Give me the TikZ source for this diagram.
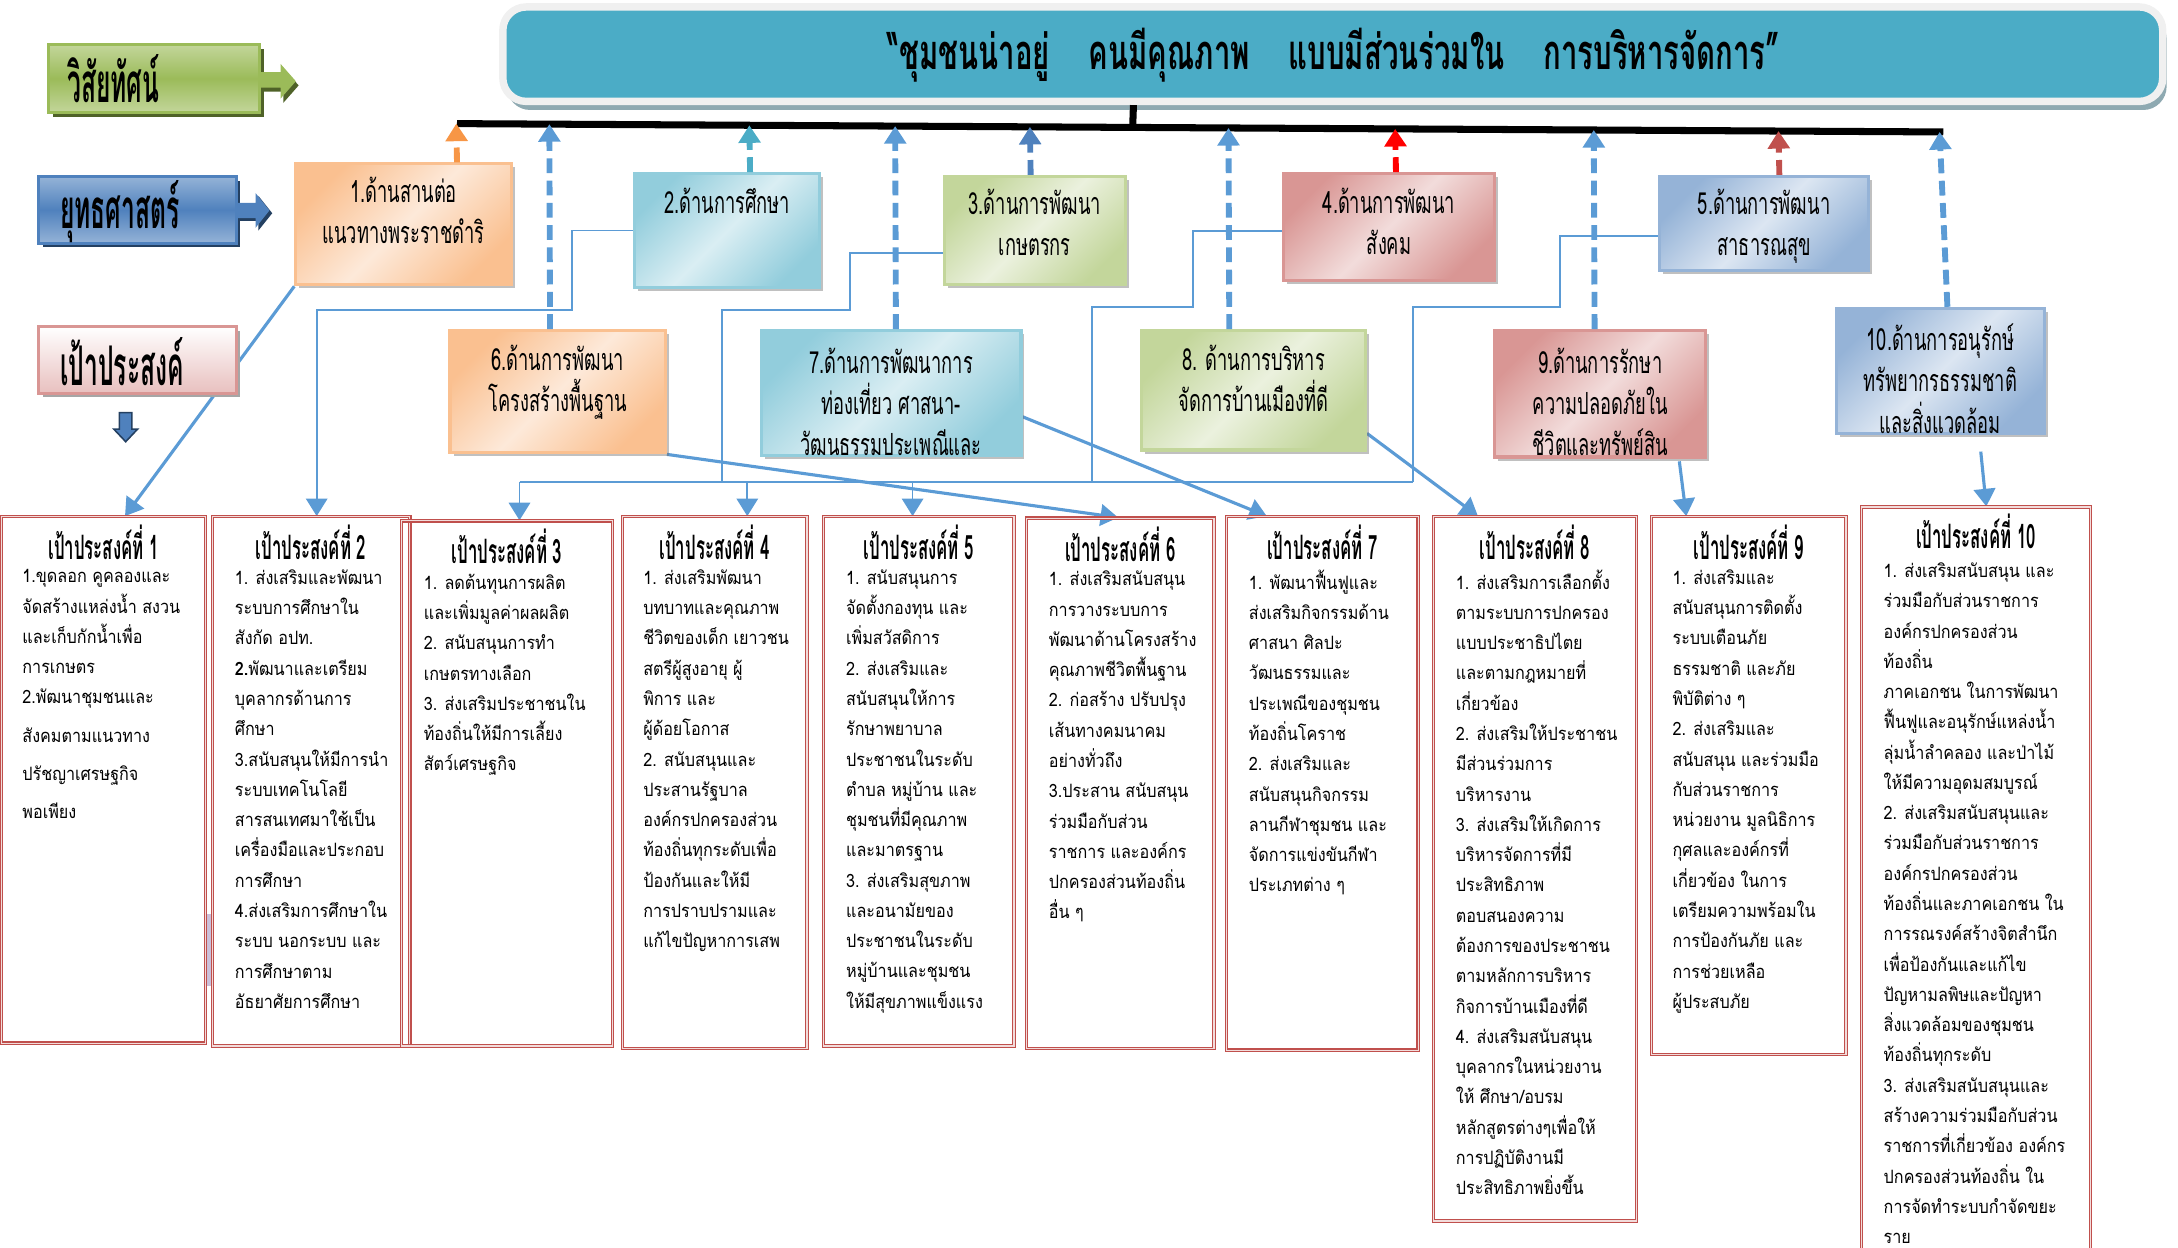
\documentclass[tikz,border=0pt]{standalone}
\usepackage{fontspec}
\newfontfamily\thaicond[Script=Thai,FakeStretch=0.6]{Loma}
\newfontfamily\thaihead[Script=Thai,FakeStretch=0.5]{Loma}
\newfontfamily\thainarrow[Script=Thai,FakeStretch=0.45]{Loma}
\newfontfamily\thaibody[Script=Thai,FakeStretch=0.88]{Loma}
\usetikzlibrary{arrows.meta,shadows,fit,calc}

\definecolor{orangeD}{HTML}{FAC090}
\definecolor{orangeL}{HTML}{FDE9D9}
\definecolor{orangeA}{HTML}{F79646}
\definecolor{tealD}{HTML}{92CDDC}
\definecolor{tealL}{HTML}{DAEEF3}
\definecolor{tealA}{HTML}{4BACC6}
\definecolor{greenD}{HTML}{C3D69B}
\definecolor{greenL}{HTML}{EBF1DE}
\definecolor{pinkD}{HTML}{D99694}
\definecolor{pinkL}{HTML}{F2DCDB}
\definecolor{blueD}{HTML}{95B3D7}
\definecolor{blueL}{HTML}{DCE6F2}
\definecolor{blueA}{HTML}{4F81BD}
\definecolor{darkredA}{HTML}{C0504D}
\definecolor{linkblue}{HTML}{5B9BD5}
\definecolor{objred}{HTML}{C0504D}
\definecolor{bannerteal}{HTML}{4BACC6}
\definecolor{bannerrim}{HTML}{F0F0F0}
\definecolor{bannerdrop}{HTML}{8EA9B1}
\definecolor{visL}{HTML}{C3D69B}
\definecolor{visD}{HTML}{9BBB59}
\definecolor{visS}{HTML}{4F6228}
\definecolor{stratS}{HTML}{244061}
\definecolor{lavender}{HTML}{CCC0DA}

\pgfdeclarelayer{back}
\pgfsetlayers{back,main}

\begin{document}
\begin{tikzpicture}[x=0.0125cm,y=-0.0125cm,
  >={Triangle[width=5.5pt,length=4.5pt]},
  stbox/.style={inner sep=0pt, line width=.8pt,
    drop shadow={shadow xshift=.9pt,shadow yshift=-.9pt,fill=black!55,opacity=.45}},
  orangebox/.style={stbox, draw=orangeD, left color=orangeD, right color=orangeD, middle color=orangeL, shading angle=45},
  tealbox/.style={stbox, draw=tealD, left color=tealD, right color=tealD, middle color=tealL, shading angle=45},
  greenbox/.style={stbox, draw=greenD, left color=greenD, right color=greenD, middle color=greenL, shading angle=45},
  pinkbox/.style={stbox, draw=pinkD, left color=pinkD, right color=pinkD, middle color=pinkL, shading angle=45},
  bluebox/.style={stbox, draw=blueD, left color=blueD, right color=blueD, middle color=blueL, shading angle=45},
  sttext/.style={font=\thaicond\fontsize{7.8pt}{10.5pt}\selectfont, align=center, inner sep=0pt, anchor=north},
  lbltext/.style={font=\thainarrow\bfseries\fontsize{14pt}{16pt}\selectfont, inner sep=0pt, anchor=west},
  objbox/.style={inner sep=0pt, draw=objred, line width=.3pt, double=pinkL, double distance=.3pt},
  objhead/.style={font=\thaihead\bfseries\fontsize{8.6pt}{10pt}\selectfont, inner sep=0pt, anchor=north},
  objtext/.style={font=\thaibody\fontsize{4.7pt}{7.75pt}\selectfont, align=left, inner sep=0pt, anchor=north west},
  link/.style={draw=linkblue, line width=.45pt},
  diag/.style={draw=linkblue, line width=.8pt, ->},
  uparrow/.style={line width=1.5pt, dash pattern=on 3.8pt off 1.9pt, ->},
]
\useasboundingbox (0,0) rectangle (1568,898);
\clip (0,0) rectangle (1568,898);

% vision banner
\node[inner sep=0pt, draw=bannerrim, line width=1.9pt, fill=bannerteal, rounded corners=6pt,
  drop shadow={shadow xshift=1pt,shadow yshift=-2.2pt,fill=bannerdrop,opacity=1},
  fit={(362,5) (1557,73)}] (vis) {};
\node[font=\thaicond\bfseries\fontsize{12.5pt}{15pt}\selectfont] (vistxt) at (960,40)
  {“ชุมชนน่าอยู่\hspace{.8em}คนมีคุณภาพ\hspace{.8em}แบบมีส่วนร่วมใน\hspace{.8em}การบริหารจัดการ”};
\coordinate (barL) at (329,89);
\coordinate (barR) at (1399,95);
\coordinate (stub) at (816,0);
\draw[line width=1.8pt] (barL) -- (barR);
\draw[line width=1.8pt] (vis.south -| stub) -- ($(barL)!(stub)!(barR)$);

% left labels
\fill[visS] (38,35) rectangle (190,84);
\node[inner sep=0pt, draw=visD, line width=.8pt, top color=visL, bottom color=visL, middle color=visD,
  fit={(35,32) (187,81)}] (vlab) {};
\node[lbltext] at ($(vlab.west)+(14,0)$) {วิสัยทัศน์};
\fill[visS] (189,55) -- (204,55) -- (204,49) -- (215,61.5) -- (204,74) -- (204,66) -- (189,66) -- cycle;
\fill[visD] (187,52) -- (202,52) -- (202,46) -- (213,58.5) -- (202,71) -- (202,63) -- (187,63) -- cycle;

\fill[stratS] (31,130) rectangle (173,178);
\node[inner sep=0pt, draw=blueA, line width=.8pt, top color=blueD, bottom color=blueD, middle color=blueA,
  fit={(28,127) (170,175)}] (slab) {};
\node[lbltext] at ($(slab.west)+(16,1)$) {ยุทธศาสตร์};
\fill[stratS] (172,148) -- (186,148) -- (186,141) -- (196,153.5) -- (186,166) -- (186,159) -- (172,159) -- cycle;
\fill[blueA] (170,146) -- (184,146) -- (184,139) -- (194,151.5) -- (184,164) -- (184,157) -- (170,157) -- cycle;

\fill[black!35] (31,238) rectangle (173,286);
\node[inner sep=0pt, draw=pinkD, line width=.8pt, top color=white, bottom color=pinkD!60,
  fit={(28,235) (170,283)}] (olab) {};
\node[lbltext] at ($(olab.west)+(16,1)$) {เป้าประสงค์};
\filldraw[fill=blueA, draw=stratS, line width=.4pt] (86,297) -- (95,297) -- (95,309) -- (99,309) -- (90.5,318) -- (82,309) -- (86,309) -- cycle;

% strategy boxes
\node[orangebox, fit={(213,118) (368,205)}] (s1) {};
\node[sttext] (s1t) at ($(s1.north)+(0,10)$) {1.ด้านสานต่อ\\แนวทางพระราชดำริ};
\node[tealbox, fit={(457,125) (590,207)}] (s2) {};
\node[sttext] (s2t) at ($(s2.north)+(0,11)$) {2.ด้านการศึกษา};
\node[greenbox, fit={(680,127) (810,205)}] (s3) {};
\node[sttext] (s3t) at ($(s3.north)+(0,10)$) {3.ด้านการพัฒนา\\เกษตรกร};
\node[pinkbox, fit={(924,125) (1076,202)}] (s4) {};
\node[sttext] (s4t) at ($(s4.north)+(0,11)$) {4.ด้านการพัฒนา\\สังคม};
\node[bluebox, fit={(1195,127) (1345,195)}] (s5) {};
\node[sttext] (s5t) at ($(s5.north)+(0,10)$) {5.ด้านการพัฒนา\\สาธารณสุข};
\node[orangebox, fit={(324,238) (479,326)}] (s6) {};
\node[sttext] (s6t) at ($(s6.north)+(0,11)$) {6.ด้านการพัฒนา\\โครงสร้างพื้นฐาน};
\node[tealbox, fit={(548,238) (735,328)}] (s7) {};
\begin{scope}
  \clip (s7.south west) rectangle (s7.north east);
  \node[sttext] (s7t) at ($(s7.north)+(0,13)$) {7.ด้านการพัฒนาการ\\ท่องเที่ยว ศาสนา-\\วัฒนธรรมประเพณีและ};
\end{scope}
\node[greenbox, fit={(822,238) (983,324)}] (s8) {};
\node[sttext] (s8t) at ($(s8.north)+(0,11)$) {8. ด้านการบริหาร\\จัดการบ้านเมืองที่ดี};
\node[pinkbox, fit={(1076,238) (1228,329)}] (s9) {};
\begin{scope}
  \clip (s9.south west) rectangle (s9.north east);
  \node[sttext] (s9t) at ($(s9.north)+(0,13)$) {9.ด้านการรักษา\\ความปลอดภัยใน\\ชีวิตและทรัพย์สิน};
\end{scope}
\node[bluebox, fit={(1322,222) (1472,312)}] (s10) {};
\begin{scope}
  \clip (s10.south west) rectangle (s10.north east);
  \node[sttext] (s10t) at ($(s10.north)+(0,12)$) {10.ด้านการอนุรักษ์\\ทรัพยากรธรรมชาติ\\และสิ่งแวดล้อม};
\end{scope}

% dashed arrows up to the bar
\coordinate (a1) at (329,0);  \coordinate (a2) at (540,0);
\coordinate (a3) at (742,0);  \coordinate (a4) at (1005,0);
\coordinate (a5) at (1281,0); \coordinate (a6) at (396,0);
\coordinate (a7) at (645,0);  \coordinate (a8) at (885,0);
\coordinate (a9) at (1148,0); \coordinate (a10) at (1397,0);
\draw[uparrow, orangeA] (s1.north -| a1) -- ($(barL)!(a1)!(barR)$);
\draw[uparrow, tealA] (s2.north -| a2) -- ($(barL)!(a2)!(barR)$);
\draw[uparrow, blueA] (s3.north -| a3) -- ($(barL)!(a3)!(barR)$);
\draw[uparrow, red] (s4.north -| a4) -- ($(barL)!(a4)!(barR)$);
\draw[uparrow, darkredA] (s5.north -| a5) -- ($(barL)!(a5)!(barR)$);
\draw[uparrow, linkblue] (s6.north -| a6) -- ($(barL)!(a6)!(barR)$);
\draw[uparrow, linkblue] (s7.north -| a7) -- ($(barL)!(a7)!(barR)$);
\draw[uparrow, linkblue] (s8.north -| a8) -- ($(barL)!(a8)!(barR)$);
\draw[uparrow, linkblue] (s9.north -| a9) -- ($(barL)!(a9)!(barR)$);
\draw[uparrow, linkblue] ($(s10.north)+(5,0)$) -- ($(barL)!(a10)!(barR)$);

% objectives
\fill[lavender] (148,658) rectangle (154,710);
\node[objbox, fit={(1,372) (148,751)}] (o1) {};
\node[objhead] (h1) at ($(o1.north)+(0,6)$) {เป้าประสงค์ที่ 1};
\node[objtext] (t1) at ($(o1.north west)+(15,38)$) {1.ขุดลอก คูคลองและ\\จัดสร้างแหล่งน้ำ สงวน\\และเก็บกักน้ำเพื่อ\\การเกษตร\\2.พัฒนาชุมชนและ\\[2pt]สังคมตามแนวทาง\\[2pt]ปรัชญาเศรษฐกิจ\\[2pt]พอเพียง};

\node[objbox, fit={(153,372) (295,753)}] (o2) {};
\node[objhead] (h2) at ($(o2.north)+(0,6)$) {เป้าประสงค์ที่ 2};
\node[objtext] (t2) at ($(o2.north west)+(16,38)$) {1. ส่งเสริมและพัฒนา\\ระบบการศึกษาใน\\สังกัด อปท.\\{\bfseries 2.}พัฒนาและเตรียม\\บุคลากรด้านการ\\ศึกษา\\3.สนับสนุนให้มีการนำ\\ระบบเทคโนโลยี\\สารสนเทศมาใช้เป็น\\เครื่องมือและประกอบ\\การศึกษา\\4.ส่งเสริมการศึกษาใน\\ระบบ นอกระบบ และ\\การศึกษาตาม\\อัธยาศัยการศึกษา};

\node[objbox, fit={(289,375) (441,753)}] (o3) {};
\node[objhead] (h3) at ($(o3.north)+(0,6)$) {เป้าประสงค์ที่ 3};
\node[objtext] (t3) at ($(o3.north west)+(16,38)$) {1. ลดต้นทุนการผลิต\\และเพิ่มมูลค่าผลผลิต\\2. สนับสนุนการทำ\\เกษตรทางเลือก\\3. ส่งเสริมประชาชนใน\\ท้องถิ่นให้มีการเลี้ยง\\สัตว์เศรษฐกิจ};

\node[objbox, fit={(448,372) (581,755)}] (o4) {};
\node[objhead] (h4) at ($(o4.north)+(0,6)$) {เป้าประสงค์ที่ 4};
\node[objtext] (t4) at ($(o4.north west)+(15,38)$) {1. ส่งเสริมพัฒนา\\บทบาทและคุณภาพ\\ชีวิตของเด็ก เยาวชน\\สตรีผู้สูงอายุ ผู้\\พิการ และ\\ผู้ด้อยโอกาส\\2. สนับสนุนและ\\ประสานรัฐบาล\\องค์กรปกครองส่วน\\ท้องถิ่นทุกระดับเพื่อ\\ป้องกันและให้มี\\การปราบปรามและ\\แก้ไขปัญหาการเสพ};

\node[objbox, fit={(593,372) (730,753)}] (o5) {};
\node[objhead] (h5) at ($(o5.north)+(0,6)$) {เป้าประสงค์ที่ 5};
\node[objtext] (t5) at ($(o5.north west)+(16,38)$) {1. สนับสนุนการ\\จัดตั้งกองทุน และ\\เพิ่มสวัสดิการ\\2. ส่งเสริมและ\\สนับสนุนให้การ\\รักษาพยาบาล\\ประชาชนในระดับ\\ตำบล หมู่บ้าน และ\\ชุมชนที่มีคุณภาพ\\และมาตรฐาน\\3. ส่งเสริมสุขภาพ\\และอนามัยของ\\ประชาชนในระดับ\\หมู่บ้านและชุมชน\\ให้มีสุขภาพแข็งแรง};

\node[objbox, fit={(739,373) (874,755)}] (o6) {};
\node[objhead] (h6) at ($(o6.north)+(0,6)$) {เป้าประสงค์ที่ 6};
\node[objtext] (t6) at ($(o6.north west)+(16,38)$) {1. ส่งเสริมสนับสนุน\\การวางระบบการ\\พัฒนาด้านโครงสร้าง\\คุณภาพชีวิตพื้นฐาน\\2. ก่อสร้าง ปรับปรุง\\เส้นทางคมนาคม\\อย่างทั่วถึง\\3.ประสาน สนับสนุน\\ร่วมมือกับส่วน\\ราชการ และองค์กร\\ปกครองส่วนท้องถิ่น\\อื่น ๆ};

\node[objbox, fit={(883,372) (1021,756)}] (o7) {};
\node[objhead] (h7) at ($(o7.north)+(0,6)$) {เป้าประสงค์ที่ 7};
\node[objtext] (t7) at ($(o7.north west)+(16,38)$) {1. พัฒนาฟื้นฟูและ\\ส่งเสริมกิจกรรมด้าน\\ศาสนา ศิลปะ\\วัฒนธรรมและ\\ประเพณีของชุมชน\\ท้องถิ่นโคราช\\2. ส่งเสริมและ\\สนับสนุนกิจกรรม\\ลานกีฬาชุมชน และ\\จัดการแข่งขันกีฬา\\ประเภทต่าง ๆ};

\node[objbox, fit={(1032,372) (1178,879)}] (o8) {};
\node[objhead] (h8) at ($(o8.north)+(0,6)$) {เป้าประสงค์ที่ 8};
\node[objtext] (t8) at ($(o8.north west)+(16,38)$) {1. ส่งเสริมการเลือกตั้ง\\ตามระบบการปกครอง\\แบบประชาธิปไตย\\และตามกฎหมายที่\\เกี่ยวข้อง\\2. ส่งเสริมให้ประชาชน\\มีส่วนร่วมการ\\บริหารงาน\\3. ส่งเสริมให้เกิดการ\\บริหารจัดการที่มี\\ประสิทธิภาพ\\ตอบสนองความ\\ต้องการของประชาชน\\ตามหลักการบริหาร\\กิจการบ้านเมืองที่ดี\\4. ส่งเสริมสนับสนุน\\บุคลากรในหน่วยงาน\\ให้ ศึกษา/อบรม\\หลักสูตรต่างๆเพื่อให้\\การปฏิบัติงานมี\\ประสิทธิภาพยิ่งขึ้น};

\node[objbox, fit={(1189,372) (1329,759)}] (o9) {};
\node[objhead] (h9) at ($(o9.north)+(0,6)$) {เป้าประสงค์ที่ 9};
\node[objtext] (t9) at ($(o9.north west)+(15,38)$) {1. ส่งเสริมและ\\สนับสนุนการติดตั้ง\\ระบบเตือนภัย\\ธรรมชาติ และภัย\\พิบัติต่าง ๆ\\2. ส่งเสริมและ\\สนับสนุน และร่วมมือ\\กับส่วนราชการ\\หน่วยงาน มูลนิธิการ\\กุศลและองค์กรที่\\เกี่ยวข้อง ในการ\\เตรียมความพร้อมใน\\การป้องกันภัย และ\\การช่วยเหลือ\\ผู้ประสบภัย};

\node[objbox, fit={(1340,365) (1505,910)}] (o10) {};
\node[objhead] (h10) at ($(o10.north)+(0,5)$) {เป้าประสงค์ที่ 10};
\node[objtext] (t10) at ($(o10.north west)+(16,40)$) {1. ส่งเสริมสนับสนุน และ\\ร่วมมือกับส่วนราชการ\\องค์กรปกครองส่วน\\ท้องถิ่น\\ภาคเอกชน ในการพัฒนา\\ฟื้นฟูและอนุรักษ์แหล่งน้ำ\\ลุ่มน้ำลำคลอง และป่าไม้\\ให้มีความอุดมสมบูรณ์\\2. ส่งเสริมสนับสนุนและ\\ร่วมมือกับส่วนราชการ\\องค์กรปกครองส่วน\\ท้องถิ่นและภาคเอกชน ใน\\การรณรงค์สร้างจิตสำนึก\\เพื่อป้องกันและแก้ไข\\ปัญหามลพิษและปัญหา\\สิ่งแวดล้อมของชุมชน\\ท้องถิ่นทุกระดับ\\3. ส่งเสริมสนับสนุนและ\\สร้างความร่วมมือกับส่วน\\ราชการที่เกี่ยวข้อง องค์กร\\ปกครองส่วนท้องถิ่น ใน\\การจัดทำระบบกำจัดขยะ\\ราย};

% links from strategies to objectives
\coordinate (x1) at (90,0);    \coordinate (x2) at (228,0);
\coordinate (x6) at (805,0);   \coordinate (x7) at (912,0);
\coordinate (x8) at (1064,0);  \coordinate (x9) at (1214,0);
\coordinate (x10) at (1430,0);
\coordinate (b3) at (374,347); \coordinate (b4) at (538,347);
\coordinate (b5) at (657,347); \coordinate (bE) at (1017,347);
\begin{pgfonlayer}{back}
\draw[diag] (s1.south west) -- (o1.north -| x1);
\draw[link,->] (s2.west) -| (412,223) -| (o2.north -| x2);
\draw[link] ($(s3.west)+(0,16)$) -| (612,223) -| (520,347);
\draw[link] ($(s4.west)+(0,3)$) -| (859,221) -| (786,347);
\draw[link] ($(s5.west)+(0,9)$) -| (1123,221) -| (bE);
\draw[link] (b3) -- (bE);
\draw[link,->] (b3) -- (o3.north -| b3);
\draw[link,->] (b4) -- (o4.north -| b4);
\draw[link,->] (b5) -- (o5.north -| b5);
\draw[diag] (s6.south east) -- (o6.north -| x6);
\draw[diag] ($(s7.east)+(0,17)$) -- (o7.north -| x7);
\draw[diag] ($(s8.east)+(0,31)$) -- (o8.north -| x8);
\draw[diag] ($(s9.south)+(57,2)$) -- (o9.north -| x9);
\draw[diag] ($(s10.south)+(29,12)$) -- (o10.north -| x10);
\end{pgfonlayer}
\end{tikzpicture}
\end{document}
